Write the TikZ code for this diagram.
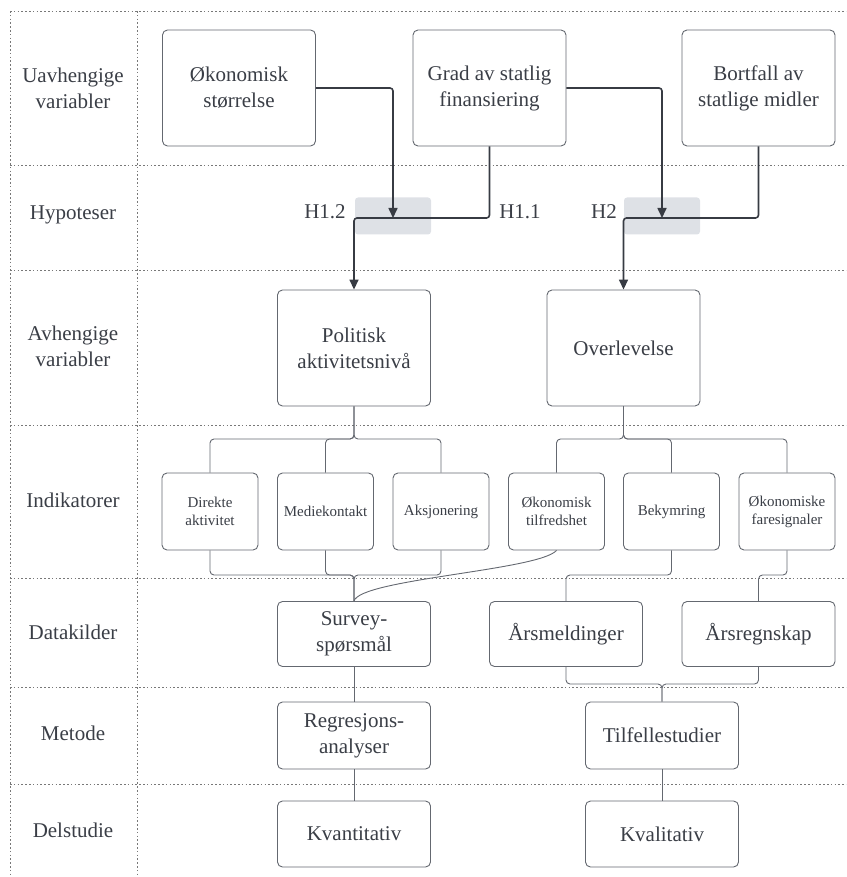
\documentclass[tikz,border=0pt]{standalone}
\usepackage{fontspec}
\setmainfont{Liberation Serif}
\usetikzlibrary{arrows.meta}
\definecolor{T}{RGB}{58, 62, 70}
\definecolor{L}{RGB}{100, 104, 112}
\definecolor{A}{RGB}{55, 59, 67}
\definecolor{H}{RGB}{222, 225, 230}
\definecolor{D}{RGB}{120, 120, 120}

\begin{document}
\begin{tikzpicture}[x=1pt, y=-1pt,
   box/.style={draw=L, line width=0.9pt, fill=white, rounded corners=5pt, align=center, text=T,
      inner sep=2pt, font=\fontsize{21}{26}\selectfont},
   bigbox/.style={box, minimum width=153pt, minimum height=116pt},
   indbox/.style={box, minimum width=96pt, minimum height=77pt, font=\fontsize{15}{18}\selectfont},
   lowbox/.style={box, minimum width=153pt, minimum height=65pt},
   rowlab/.style={text=T, align=center, font=\fontsize{21}{26}\selectfont},
   hlab/.style={text=T, font=\fontsize{21}{26}\selectfont},
   hyp/.style={fill=H, rounded corners=3pt, minimum width=76pt, minimum height=37pt, inner sep=0pt},
   grid/.style={draw=D, line width=0.8pt, dash pattern=on 1.6pt off 2.2pt},
   arr/.style={draw=A, line width=1.6pt, rounded corners=3pt, -{Triangle[length=10pt, width=9pt]}},
   tree/.style={draw=L, line width=0.9pt, rounded corners=4pt}]
   \useasboundingbox (0,0) rectangle (846,877);

   \draw[grid] (10,11) -- (846,11);
   \draw[grid] (10,11) -- (10,877);
   \draw[grid] (137,11) -- (137,877);
   \foreach \y in {165,270,425,578,687,784}
      \draw[grid] (10,\y) -- (846,\y);

   \node[rowlab] (r1) at (73,88) {Uavhengige\\variabler};
   \node[rowlab] (r2) at (73,215) {Hypoteser};
   \node[rowlab] (r3) at (73,346) {Avhengige\\variabler};
   \node[rowlab] (r4) at (73,500) {Indikatorer};
   \node[rowlab] (r5) at (73,632) {Datakilder};
   \node[rowlab] (r6) at (73,733) {Metode};
   \node[rowlab] (r7) at (73,830) {Delstudie};

   \node[hyp] (hyA) at (393,216) {};
   \node[hyp] (hyB) at (662,216) {};
   \node[hlab] (h12) at (325,212) {H1.2};
   \node[hlab] (h11) at (520,212) {H1.1};
   \node[hlab] (h2) at (604,212) {H2};

   \node[bigbox] (okst) at (239,88) {Økonomisk\\størrelse};
   \node[bigbox] (grad) at (489.5,88) {Grad av statlig\\finansiering};
   \node[bigbox] (bort) at (758.5,88) {Bortfall av\\statlige midler};
   \node[bigbox] (pol) at (354,348) {Politisk\\aktivitetsnivå};
   \node[bigbox] (ovl) at (623.5,348) {Overlevelse};

   \node[indbox] (dir) at (210,511.5) {Direkte\\aktivitet};
   \node[indbox] (med) at (325.5,511.5) {Mediekontakt};
   \node[indbox] (aks) at (441,511.5) {Aksjonering};
   \node[indbox] (otf) at (556.5,511.5) {Økonomisk\\tilfredshet};
   \node[indbox] (bek) at (671.5,511.5) {Bekymring};
   \node[indbox] (ofs) at (787,511.5) {Økonomiske\\faresignaler};

   \node[lowbox] (survey) at (354,634) {Survey-\\spørsmål};
   \node[lowbox] (arsm) at (566,634) {Årsmeldinger};
   \node[lowbox] (arsr) at (758.5,634) {Årsregnskap};
   \node[lowbox, minimum height=67pt] (reg) at (354,735.5) {Regresjons-\\analyser};
   \node[lowbox, minimum height=67pt] (tilf) at (662,735.5) {Tilfellestudier};
   \node[lowbox, minimum height=66pt] (kvant) at (354,834) {Kvantitativ};
   \node[lowbox, minimum height=66pt] (kval) at (662,834) {Kvalitativ};

   \coordinate (m1) at (393,218);
   \coordinate (m2) at (662,218);
   \draw[arr] (okst.east) -| (m1);
   \draw[arr] (grad.south) |- (pol.north |- m1) -- (pol.north);
   \draw[arr] (grad.east) -| (m2);
   \draw[arr] (bort.south) |- (ovl.north |- m2) -- (ovl.north);

   \coordinate (j1) at (0,439);
   \coordinate (j2) at (0,575);
   \coordinate (j3) at (0,684);
   \foreach \c in {dir,med,aks}
      \draw[tree] (pol.south) |- (\c.north |- j1) -- (\c.north);
   \foreach \c in {otf,bek,ofs}
      \draw[tree] (ovl.south) |- (\c.north |- j1) -- (\c.north);
   \foreach \c in {dir,med,aks}
      \draw[tree] (\c.south) |- (survey.north |- j2) -- (survey.north);
   \draw[tree] (otf.south) .. controls +(-18,20) and +(6,-22) .. (survey.north);
   \draw[tree] (bek.south) |- (arsm.north |- j2) -- (arsm.north);
   \draw[tree] (ofs.south) |- (arsr.north |- j2) -- (arsr.north);
   \draw[tree] (arsm.south) |- (tilf.north |- j3) -- (tilf.north);
   \draw[tree] (arsr.south) |- (tilf.north |- j3) -- (tilf.north);
   \draw[tree] (survey) -- (reg);
   \draw[tree] (reg) -- (kvant);
   \draw[tree] (tilf) -- (kval);
\end{tikzpicture}
\end{document}
